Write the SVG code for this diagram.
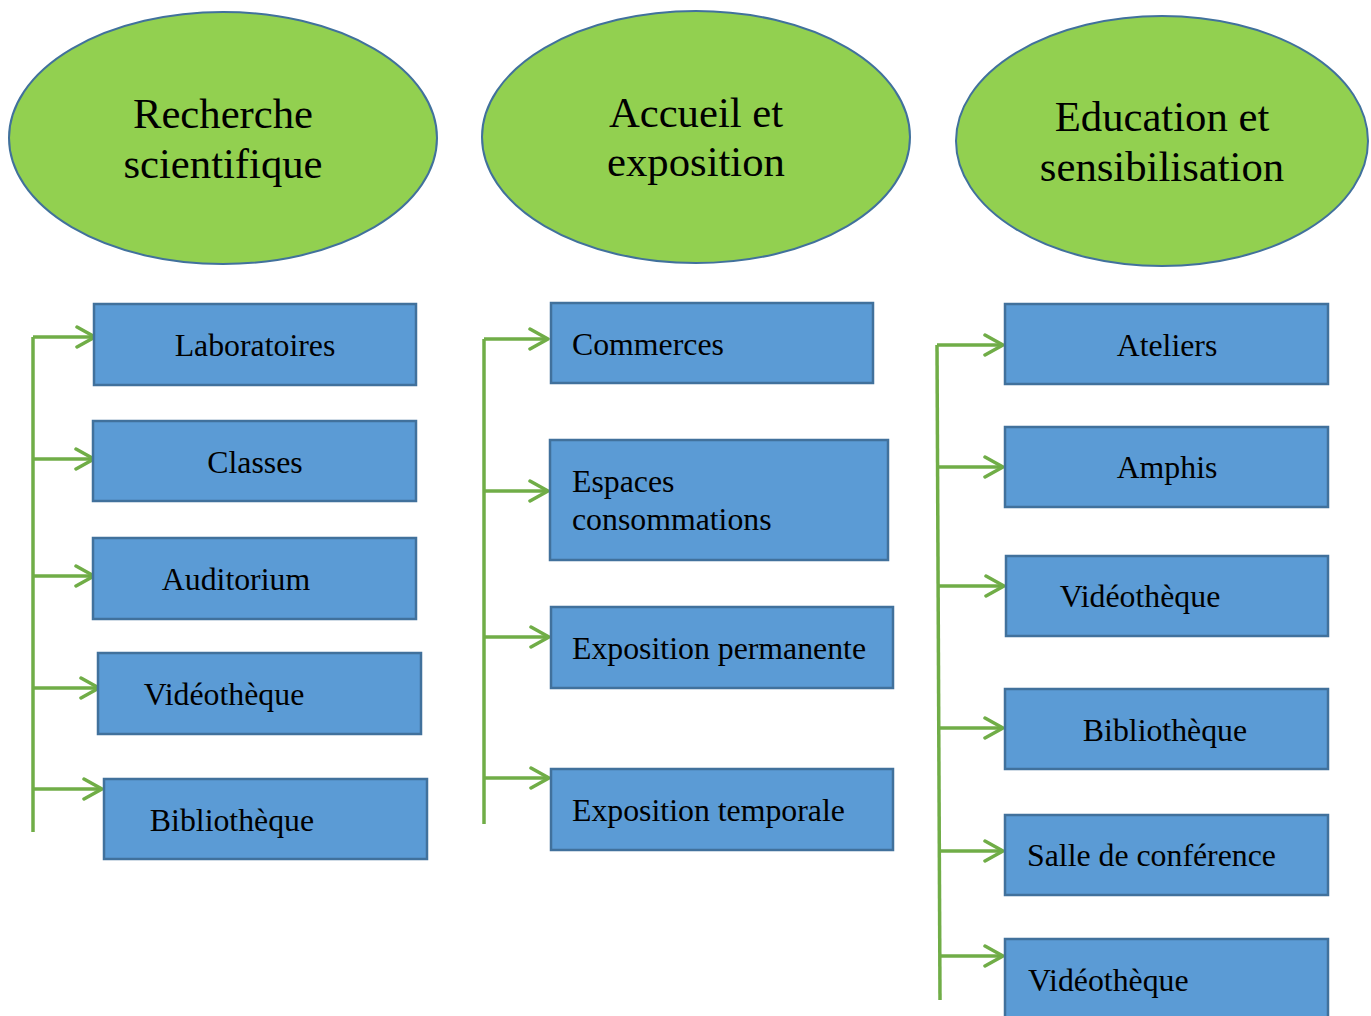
<svg xmlns="http://www.w3.org/2000/svg" width="1371" height="1016" viewBox="0 0 1371 1016">
<style>
.ell{fill:#92D050;stroke:#41719C;stroke-width:2}
.box{fill:#5B9BD5;stroke:#41719C;stroke-width:2.5}
.et{font-family:"Liberation Serif",serif;font-size:42.7px;fill:#000;text-anchor:middle}
.bt{font-family:"Liberation Serif",serif;font-size:31.8px;fill:#000}
.c{text-anchor:middle}
.ln{stroke:#70AD47;stroke-width:3.5;fill:none}
.ar{stroke:#70AD47;stroke-width:3.5;fill:none;marker-end:url(#ah)}
</style>
<defs>
<marker id="ah" markerUnits="userSpaceOnUse" markerWidth="30" markerHeight="30" refX="20" refY="12" orient="auto" viewBox="0 0 30 30">
<path d="M2,2 L20,12 L2,22" fill="none" stroke="#70AD47" stroke-width="3.5" stroke-linecap="round" stroke-linejoin="round"/>
</marker>
</defs>
<g id="e1"><ellipse class="ell" cx="223" cy="138" rx="214" ry="126"/><text class="et" x="223" y="128">Recherche</text><text class="et" x="223" y="178">scientifique</text></g>
<g id="e2"><ellipse class="ell" cx="696" cy="137" rx="214" ry="126"/><text class="et" x="696" y="127">Accueil et</text><text class="et" x="696" y="176">exposition</text></g>
<g id="e3"><ellipse class="ell" cx="1162" cy="141" rx="206" ry="125"/><text class="et" x="1162" y="131">Education et</text><text class="et" x="1162" y="181">sensibilisation</text></g>

<g id="connectors">
<path class="ln" d="M33,832 V337"/>
<path class="ar" d="M33,337 H95"/>
<path class="ar" d="M33,459 H94"/>
<path class="ar" d="M33,576 H94"/>
<path class="ar" d="M33,688 H99"/>
<path class="ar" d="M33,789 H102"/>
<path class="ln" d="M484,824 V339"/>
<path class="ar" d="M484,339 H548"/>
<path class="ar" d="M484,491 H548"/>
<path class="ar" d="M484,637 H549"/>
<path class="ar" d="M484,778 H549"/>
<path class="ln" d="M940,1000 L937,345"/>
<path class="ar" d="M937,345 H1003"/>
<path class="ar" d="M938,467 H1003"/>
<path class="ar" d="M938,586 H1004"/>
<path class="ar" d="M939,728 H1003"/>
<path class="ar" d="M939,851 H1003"/>
<path class="ar" d="M940,956 H1003"/>
</g>

<g id="n1"><rect class="box" x="94" y="304" width="322" height="81"/><text class="bt c" x="255" y="356">Laboratoires</text></g>
<g id="n2"><rect class="box" x="93" y="421" width="323" height="80"/><text class="bt c" x="255" y="473">Classes</text></g>
<g id="n3"><rect class="box" x="93" y="538" width="323" height="81"/><text class="bt c" x="236" y="590">Auditorium</text></g>
<g id="n4"><rect class="box" x="98" y="653" width="323" height="81"/><text class="bt c" x="224" y="705">Vidéothèque</text></g>
<g id="n5"><rect class="box" x="104" y="779" width="323" height="80"/><text class="bt c" x="232" y="831">Bibliothèque</text></g>

<g id="n6"><rect class="box" x="551" y="303" width="322" height="80"/><text class="bt" x="572" y="355">Commerces</text></g>
<g id="n7"><rect class="box" x="550" y="440" width="338" height="120"/><text class="bt" x="572" y="492">Espaces</text><text class="bt" x="572" y="530">consommations</text></g>
<g id="n8"><rect class="box" x="551" y="607" width="342" height="81"/><text class="bt" x="572" y="659">Exposition permanente</text></g>
<g id="n9"><rect class="box" x="551" y="769" width="342" height="81"/><text class="bt" x="572" y="821">Exposition temporale</text></g>

<g id="n10"><rect class="box" x="1005" y="304" width="323" height="80"/><text class="bt c" x="1167" y="356">Ateliers</text></g>
<g id="n11"><rect class="box" x="1005" y="427" width="323" height="80"/><text class="bt c" x="1167" y="478">Amphis</text></g>
<g id="n12"><rect class="box" x="1006" y="556" width="322" height="80"/><text class="bt c" x="1140" y="607">Vidéothèque</text></g>
<g id="n13"><rect class="box" x="1005" y="689" width="323" height="80"/><text class="bt c" x="1165" y="741">Bibliothèque</text></g>
<g id="n14"><rect class="box" x="1005" y="815" width="323" height="80"/><text class="bt" x="1027" y="866">Salle de conférence</text></g>
<g id="n15"><rect class="box" x="1005" y="939" width="323" height="90"/><text class="bt" x="1028" y="991">Vidéothèque</text></g>
</svg>
